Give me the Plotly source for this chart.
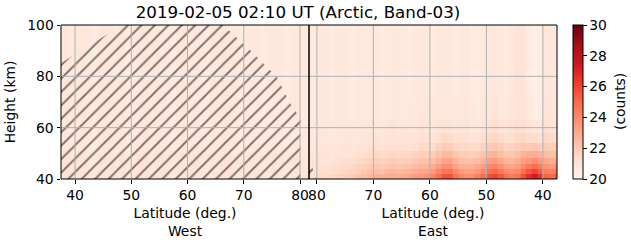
import plotly.graph_objects as go

# ---------------- data ----------------
title_text = "2019-02-05 02:10 UT (Arctic, Band-03)"
height_ticks = [40, 60, 80, 100]
lat_ticks = [40, 50, 60, 70, 80]
cbar_ticks = [20, 22, 24, 26, 28, 30]

# West panel: latitude bin edges (ascending) and height bin edges
west_lat_edges = list(range(37, 83))          # 46 edges -> 45 columns
west_h_edges = [40, 50, 100]
west_low = [21.0, 21.1, 20.9, 21.0, 21.1, 20.9, 20.8, 21.0, 21.1, 21.0, 20.9, 21.0, 20.8,
            20.9, 21.0, 21.1, 20.9, 21.0, 21.0, 20.9, 20.8, 21.0, 21.1, 20.9, 21.0, 20.9,
            20.8, 21.0, 20.9, 21.1, 21.0, 20.9, 20.8, 20.9, 21.0, 20.9, 20.8, 20.9, 21.0,
            20.9, 20.8, 20.9, 21.0, 20.9, 20.9]
west_high = [20.8, 20.9, 20.7, 20.8, 20.9, 20.7, 20.6, 20.8, 20.9, 20.8, 20.7, 20.8, 20.6,
             20.7, 20.8, 20.9, 20.7, 20.8, 20.8, 20.7, 20.6, 20.8, 20.9, 20.7, 20.8, 20.7,
             20.6, 20.8, 20.7, 20.9, 20.8, 20.7, 20.6, 20.7, 20.8, 20.7, 20.6, 20.7, 20.8,
             20.7, 20.6, 20.7, 20.8, 20.7, 20.7]

# East panel: latitude bin edges (descending, 82 -> 37) and height bin edges
east_lat_edges = list(range(82, 36, -1))      # 46 edges -> 45 columns
east_h_edges = [40, 42, 44, 46, 48, 51, 54, 58, 63, 72, 100]
# one profile per latitude column (81.5 ... 37.5), values from bottom to top
east_profiles = [
    [21.3, 21.2, 21.1, 21.1, 21.0, 20.9, 20.9, 20.8, 20.8, 20.8],
    [21.3, 21.2, 21.1, 21.0, 20.9, 20.8, 20.8, 20.7, 20.7, 20.7],
    [21.4, 21.3, 21.2, 21.1, 21.0, 20.9, 20.9, 20.8, 20.8, 20.8],
    [21.4, 21.3, 21.2, 21.1, 21.0, 20.9, 20.8, 20.7, 20.7, 20.7],
    [21.5, 21.3, 21.2, 21.1, 20.9, 20.8, 20.7, 20.7, 20.6, 20.6],
    [21.6, 21.4, 21.3, 21.2, 21.0, 20.9, 20.8, 20.8, 20.7, 20.7],
    [21.7, 21.5, 21.4, 21.3, 21.1, 21.0, 20.9, 20.9, 20.8, 20.8],
    [21.8, 21.6, 21.4, 21.3, 21.1, 21.0, 20.9, 20.8, 20.7, 20.7],
    [22.0, 21.7, 21.5, 21.3, 21.1, 20.9, 20.8, 20.7, 20.6, 20.6],
    [22.2, 21.9, 21.7, 21.5, 21.2, 21.1, 20.9, 20.8, 20.7, 20.7],
    [22.4, 22.1, 21.8, 21.6, 21.3, 21.1, 20.9, 20.8, 20.7, 20.7],
    [22.6, 22.3, 22.0, 21.7, 21.4, 21.2, 21.1, 20.9, 20.8, 20.8],
    [22.8, 22.4, 22.1, 21.8, 21.5, 21.2, 21.0, 20.8, 20.7, 20.7],
    [22.7, 22.3, 22.0, 21.7, 21.4, 21.1, 20.9, 20.7, 20.6, 20.6],
    [22.9, 22.5, 22.1, 21.8, 21.5, 21.2, 21.0, 20.9, 20.7, 20.7],
    [23.0, 22.6, 22.2, 21.9, 21.6, 21.3, 21.1, 21.0, 20.8, 20.8],
    [22.9, 22.5, 22.1, 21.8, 21.5, 21.2, 21.0, 20.9, 20.7, 20.7],
    [23.0, 22.6, 22.2, 21.9, 21.5, 21.3, 21.0, 20.9, 20.7, 20.7],
    [23.2, 22.7, 22.3, 21.9, 21.5, 21.2, 21.0, 20.8, 20.7, 20.6],
    [23.4, 22.9, 22.5, 22.1, 21.7, 21.3, 21.1, 20.9, 20.8, 20.7],
    [23.6, 23.1, 22.6, 22.2, 21.8, 21.5, 21.2, 21.0, 20.9, 20.8],
    [23.8, 23.2, 22.7, 22.3, 21.8, 21.4, 21.1, 20.9, 20.8, 20.7],
    [24.1, 23.5, 22.9, 22.4, 21.9, 21.4, 21.1, 20.8, 20.7, 20.6],
    [24.8, 24.1, 23.4, 22.8, 22.2, 21.7, 21.3, 21.0, 20.8, 20.7],
    [25.6, 24.7, 23.9, 23.2, 22.5, 22.0, 21.5, 21.1, 20.9, 20.8],
    [25.6, 24.7, 23.9, 23.2, 22.5, 21.9, 21.4, 21.0, 20.8, 20.7],
    [24.7, 24.0, 23.3, 22.7, 22.1, 21.6, 21.2, 20.9, 20.7, 20.6],
    [24.1, 23.5, 22.9, 22.4, 21.9, 21.5, 21.2, 20.9, 20.8, 20.7],
    [23.8, 23.3, 22.8, 22.3, 21.9, 21.5, 21.2, 21.0, 20.9, 20.8],
    [23.9, 23.3, 22.7, 22.3, 21.8, 21.4, 21.1, 20.8, 20.7, 20.6],
    [24.3, 23.6, 23.0, 22.4, 21.9, 21.4, 21.0, 20.8, 20.6, 20.5],
    [24.9, 24.1, 23.4, 22.8, 22.2, 21.7, 21.3, 21.0, 20.8, 20.7],
    [25.7, 24.8, 24.0, 23.3, 22.6, 22.0, 21.5, 21.1, 20.9, 20.8],
    [26.0, 25.1, 24.2, 23.5, 22.7, 22.1, 21.6, 21.3, 21.0, 20.9],
    [25.5, 24.6, 23.8, 23.1, 22.4, 21.9, 21.4, 21.0, 20.8, 20.7],
    [24.8, 24.0, 23.3, 22.7, 22.1, 21.6, 21.2, 20.9, 20.7, 20.6],
    [24.4, 23.8, 23.1, 22.6, 22.1, 21.7, 21.3, 21.1, 20.9, 20.8],
    [24.7, 24.0, 23.4, 22.9, 22.3, 21.9, 21.5, 21.3, 21.1, 21.0],
    [25.6, 24.8, 24.0, 23.3, 22.7, 22.1, 21.6, 21.3, 21.1, 21.0],
    [26.6, 25.5, 24.5, 23.6, 22.8, 22.0, 21.4, 21.0, 20.7, 20.6],
    [27.3, 26.1, 24.9, 23.9, 22.9, 22.1, 21.4, 20.9, 20.5, 20.4],
    [26.5, 25.4, 24.4, 23.5, 22.7, 21.9, 21.3, 20.9, 20.6, 20.5],
    [25.2, 24.4, 23.7, 23.1, 22.4, 21.9, 21.5, 21.2, 21.0, 20.9],
    [25.0, 24.2, 23.5, 22.9, 22.3, 21.8, 21.4, 21.1, 20.9, 20.8],
    [25.3, 24.5, 23.7, 23.0, 22.4, 21.8, 21.3, 21.0, 20.8, 20.7],
]

# Hatched (masked) region outlines, in (latitude, height)
hatch_west_lat = [37.0, 37.0, 45.8, 48.0, 66.3, 71.1, 75.9, 78.2, 80.0, 80.1, 80.1]
hatch_west_h = [40.0, 84.5, 96.5, 100.0, 100.0, 90.3, 79.7, 69.6, 63.8, 63.0, 40.0]
hatch_east_lat = [82.0, 82.0, 80.1]
hatch_east_h = [40.0, 52.0, 40.0]

reds = [[0.0, "rgb(255,245,240)"], [0.125, "rgb(254,224,210)"], [0.25, "rgb(252,187,161)"],
        [0.375, "rgb(252,146,114)"], [0.5, "rgb(251,106,74)"], [0.625, "rgb(239,59,44)"],
        [0.75, "rgb(203,24,29)"], [0.875, "rgb(165,15,21)"], [1.0, "rgb(103,0,13)"]]

# ---------------- figure ----------------
FONT = "DejaVu Sans"
TICK = 13.9

west_z = [west_low, west_high]
east_z = [list(row) for row in zip(*east_profiles)]

fig = go.Figure()
fig.add_trace(go.Heatmap(x=west_lat_edges, y=west_h_edges, z=west_z, coloraxis="coloraxis",
                         xaxis="x", yaxis="y", hoverinfo="skip"))
fig.add_trace(go.Heatmap(x=east_lat_edges, y=east_h_edges, z=east_z, coloraxis="coloraxis",
                         xaxis="x2", yaxis="y", hoverinfo="skip"))

for lx, ly, xa in [(hatch_west_lat, hatch_west_h, "x"), (hatch_east_lat, hatch_east_h, "x2")]:
    fig.add_trace(go.Scatter(x=lx, y=ly, xaxis=xa, yaxis="y", mode="lines", fill="toself",
                             line=dict(width=0, color="black"),
                             fillcolor="rgba(0,0,0,0)",
                             fillpattern=dict(shape="/", fgcolor="black",
                                              bgcolor="rgba(0,0,0,0)", size=9.5,
                                              solidity=0.2, fillmode="overlay"),
                             showlegend=False, hoverinfo="skip"))

shapes = []
grid_col = "#b0b0b0"
for v in lat_ticks:
    for xr in ("x", "x2"):
        shapes.append(dict(type="line", xref=xr, yref="y domain", x0=v, x1=v, y0=0, y1=1,
                           line=dict(color=grid_col, width=1), layer="above"))
for v in height_ticks[1:-1]:
    shapes.append(dict(type="line", xref="paper", yref="y", x0=0, x1=1, y0=v, y1=v,
                       line=dict(color=grid_col, width=1), layer="above"))
for xr in ("x domain", "x2 domain"):
    shapes.append(dict(type="rect", xref=xr, yref="y domain", x0=0, x1=1, y0=0, y1=1,
                       line=dict(color="black", width=1), fillcolor="rgba(0,0,0,0)",
                       layer="above"))

axis_common = dict(ticks="outside", ticklen=3.5, tickwidth=1, tickcolor="black",
                   showgrid=False, zeroline=False, showline=False,
                   tickfont=dict(family=FONT, size=TICK, color="black"))

fig.update_layout(
    width=631, height=243,
    margin=dict(l=61, r=74, t=25, b=64, pad=0, autoexpand=False),
    paper_bgcolor="white", plot_bgcolor="white",
    font=dict(family=FONT, size=TICK, color="black"),
    showlegend=False,
    shapes=shapes,
    annotations=[dict(text="(counts)", textangle=-90, xref="paper", yref="paper",
                      x=(620 - 61) / 496, y=0.5, xanchor="center", yanchor="middle",
                      showarrow=False, font=dict(family=FONT, size=TICK, color="black"))],
    title=dict(text=title_text, x=(298 - 61) / 496, xref="paper", xanchor="center",
               y=1 - 12.5 / 243, yanchor="middle", font=dict(family=FONT, size=16.7)),
    xaxis=dict(domain=[0, 0.5], range=[37.5, 81.6], anchor="y", tickvals=lat_ticks,
               title=dict(text="Latitude (deg.)<br>West", standoff=6,
                          font=dict(family=FONT, size=TICK)),
               **axis_common),
    xaxis2=dict(domain=[0.5, 1], range=[81.4, 37.5], anchor="y", tickvals=lat_ticks,
                title=dict(text="Latitude (deg.)<br>East", standoff=6,
                           font=dict(family=FONT, size=TICK)),
                **axis_common),
    yaxis=dict(domain=[0, 1], range=[40, 100], anchor="x", tickvals=height_ticks,
               title=dict(text="Height (km)", standoff=8, font=dict(family=FONT, size=TICK)),
               **axis_common),
    coloraxis=dict(
        colorscale=reds, cmin=20, cmax=30,
        colorbar=dict(x=(573 - 61) / 496, xanchor="left", xref="paper",
                      y=0.5, yanchor="middle", len=1, lenmode="fraction",
                      thickness=10, thicknessmode="pixels",
                      outlinewidth=1, outlinecolor="black", xpad=0, ypad=0,
                      tickvals=cbar_ticks, ticks="outside", ticklen=3.5, tickwidth=1,
                      tickcolor="black", tickfont=dict(family=FONT, size=TICK)),
    ),
)

fig.write_html("out.html")
